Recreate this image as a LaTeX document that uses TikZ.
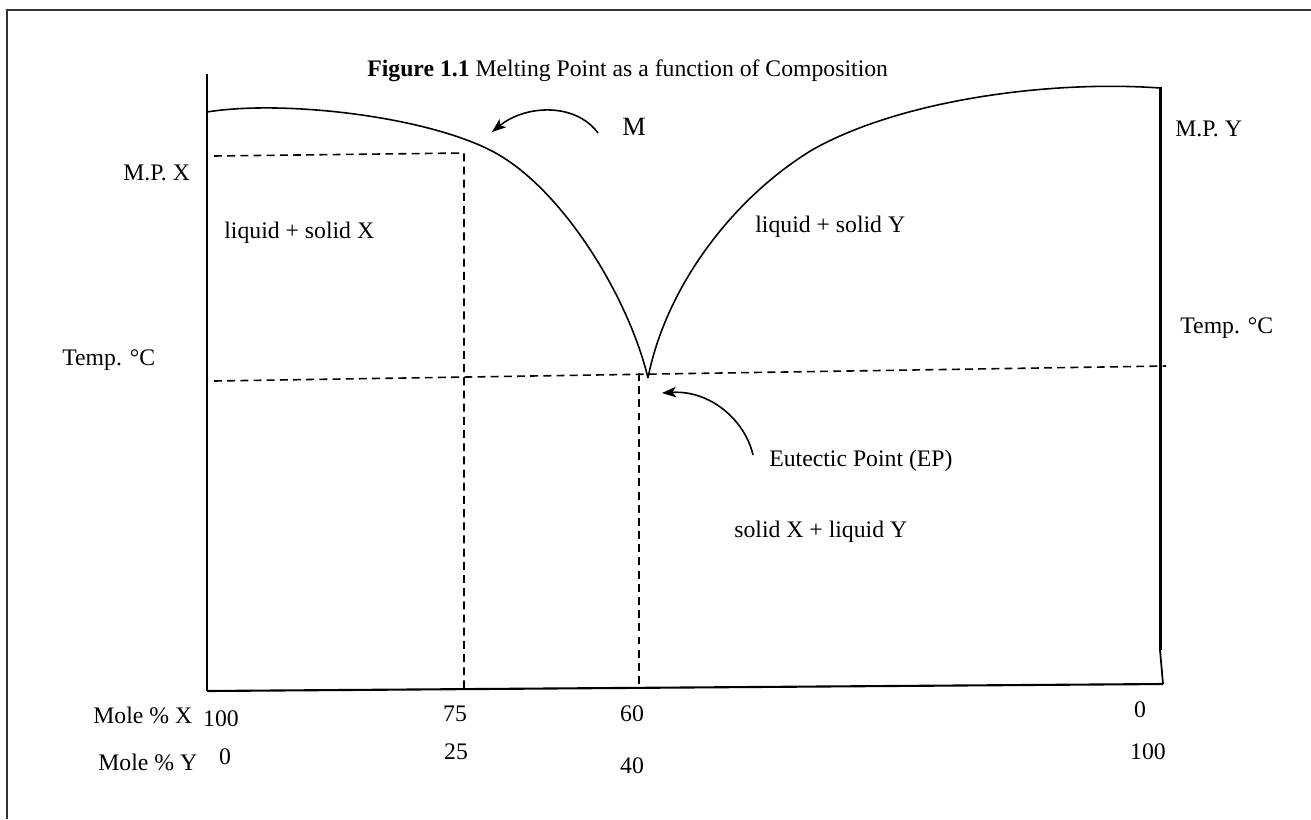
\documentclass[tikz,border=0pt]{standalone}
\usepackage{fontspec}
\setmainfont{Liberation Serif}
\usepackage{tikz}
\usetikzlibrary{arrows.meta, calc}

\tikzset{
    axisline/.style={line width=1.7pt},
    guide/.style={line width=0.9pt, dash pattern=on 4.5pt off 3pt},
    meltcurve/.style={line width=0.9pt},
    pointer/.style={line width=0.9pt, -{Stealth[length=8pt, width=6pt, inset=2pt]}},
    lbl/.style={inner sep=0pt, font=\fontsize{13.5}{16}\selectfont},
}

\begin{document}
\begin{tikzpicture}[x=0.02cm, y=-0.02cm]
    \useasboundingbox (0,0) rectangle (1311,819);

    % Page frame (cut off at right and bottom)
    \draw[line width=1.1pt, black!80] (7,819) -- (7,10) -- (1311,10);

    % Axes
    \coordinate (ytop) at (207,74);
    \coordinate (orig) at (207,691);
    \coordinate (xend) at (1163,684);
    \coordinate (rtop) at (1160,87);
    \coordinate (rbend) at (1160,650);
    \draw[axisline] (ytop) -- (orig);
    \draw[line width=1.2pt] (orig) -- (xend);
    \draw[axisline] (rtop) -- (rbend);
    \draw[line width=1pt] (rbend) -- (xend);

    % Melting point curves meeting at the eutectic point
    \coordinate (lstart) at (207,112);
    \coordinate (lmid) at (490,150);
    \coordinate (ep) at (648,378);
    \coordinate (rmid) at (812,150);
    \coordinate (rend) at (1160,88);
    \draw[meltcurve] (lstart) .. controls (280,100) and (420,115) .. (lmid)
        .. controls (560,185) and (628,295) .. (ep);
    \draw[meltcurve] (ep) .. controls (665,290) and (730,200) .. (rmid)
        .. controls (900,100) and (1050,80) .. (rend);

    % Dashed guide lines
    \coordinate (mpxl) at (214,156);
    \coordinate (t75) at (464,153);
    \coordinate (b75) at (464,688);
    \coordinate (tl) at (214,381);
    \coordinate (tr) at (1166,366);
    \coordinate (t60) at (639,373);
    \coordinate (b60) at (639,687);
    \draw[guide] (mpxl) -- (t75) -- (b75);
    \draw[guide] (tl) -- (tr);
    \draw[guide] (t60) -- (b60);

    % Title
    \node[lbl, anchor=west] (title) at (367,71) {\textbf{Figure 1.1} Melting Point as a function of Composition};

    % Axis labels
    \node[lbl, anchor=west] (mpx) at (123,173) {M.P. X};
    \node[lbl, anchor=west] (mpy) at (1175,129) {M.P. Y};
    \node[lbl, anchor=west] (templ) at (62,360) {Temp. °C};
    \node[lbl, anchor=west] (tempr) at (1180,328) {Temp. °C};

    % Region labels
    \node[lbl, anchor=west] (liqx) at (224,233) {liquid + solid X};
    \node[lbl, anchor=west] (liqy) at (755,227) {liquid + solid Y};
    \node[lbl, anchor=west] (solx) at (734,532) {solid X + liquid Y};
    \node[lbl, anchor=west] (eplbl) at (769,461) {Eutectic Point (EP)};
    \node[lbl, font=\fontsize{15}{18}\selectfont] (mlbl) at (634,127) {M};

    % Pointers
    \coordinate (mtail) at (598,133);
    \coordinate (mtip) at (492,132);
    \draw[pointer] (mtail) .. controls (575,102) and (525,105) .. (mtip);
    \coordinate (eptail) at (753,455);
    \coordinate (eptip) at (662,393);
    \draw[pointer] (eptail) .. controls (745,420) and (710,390) .. (eptip);

    % Composition scale
    \node[lbl, anchor=west] (molex) at (93,715) {Mole \% X};
    \node[lbl, anchor=west] (moley) at (98,762) {Mole \% Y};
    \node[lbl] (x100) at (221,719) {100};
    \node[lbl] (y0) at (225,757) {0};
    \node[lbl] (x75) at (455,714) {75};
    \node[lbl] (y25) at (456,752) {25};
    \node[lbl] (x60) at (632,714) {60};
    \node[lbl] (y40) at (632,766) {40};
    \node[lbl] (x0) at (1140,710) {0};
    \node[lbl] (y100) at (1148,752) {100};
\end{tikzpicture}
\end{document}
